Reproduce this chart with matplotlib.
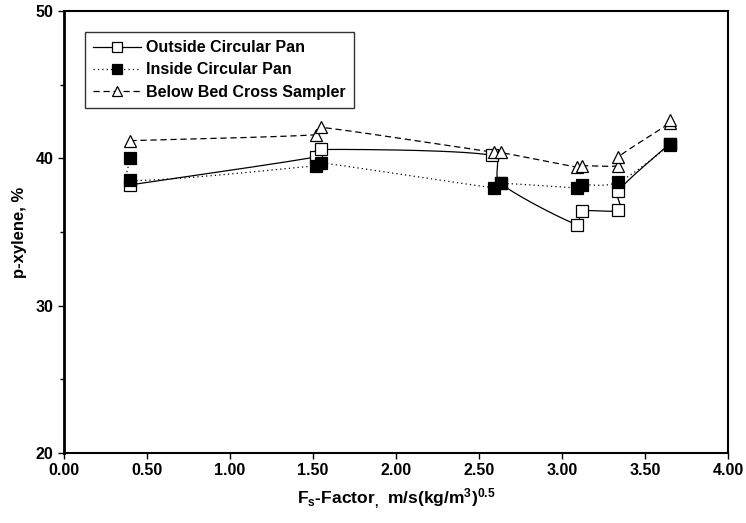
import numpy as np
import matplotlib
matplotlib.use("Agg")
import matplotlib.pyplot as plt
from matplotlib.ticker import MultipleLocator, FormatStrFormatter

plt.rcParams['font.family'] = ['Liberation Sans', 'DejaVu Sans']
plt.rcParams['font.weight'] = 'bold'
plt.rcParams['mathtext.fontset'] = 'custom'
plt.rcParams['mathtext.rm'] = 'Liberation Sans:bold'
plt.rcParams['mathtext.it'] = 'Liberation Sans:bold'
plt.rcParams['mathtext.bf'] = 'Liberation Sans:bold'

# Data
outside_x = [0.40, 1.52, 1.55, 2.58, 2.63, 3.09, 3.12, 3.34, 3.34, 3.65]
outside_y = [38.2, 40.1, 40.6, 40.2, 38.3, 35.5, 36.4, 36.5, 37.8, 41.0]
inside_x = [0.40, 0.40, 1.52, 1.55, 2.59, 2.63, 3.09, 3.12, 3.34, 3.65, 3.65]
inside_y = [40.0, 38.5, 39.5, 39.7, 38.0, 38.3, 38.0, 38.2, 38.4, 40.9, 41.0]
below_x = [0.40, 1.52, 1.55, 2.59, 2.63, 3.09, 3.12, 3.34, 3.34, 3.65, 3.65]
below_y = [41.2, 41.6, 42.1, 40.4, 40.4, 39.4, 39.5, 39.5, 40.1, 42.4, 42.6]

labels = ["Outside Circular Pan", "Inside Circular Pan", "Below Bed Cross Sampler"]

XS, YS = 166.0, 14.73  # approx display scale for smoothing


def smooth(xs, ys, n=30):
    P = np.column_stack([np.array(xs) * XS, np.array(ys) * YS])
    out = [P[0]]
    m = len(P)
    for i in range(m - 1):
        p0 = P[i - 1] if i > 0 else P[i]
        p1 = P[i]
        p2 = P[i + 1]
        p3 = P[i + 2] if i + 2 < m else P[i + 1]
        L = np.linalg.norm(p2 - p1)
        h1 = (p2 - p0) / 6.0
        h2 = (p3 - p1) / 6.0
        lim = L / 2.5
        for h in (h1, h2):
            n_ = np.linalg.norm(h)
            if n_ > lim and n_ > 0:
                h *= lim / n_
        c1 = p1 + h1
        c2 = p2 - h2
        t = np.linspace(0, 1, n)[1:, None]
        seg = ((1 - t) ** 3) * p1 + 3 * ((1 - t) ** 2) * t * c1 + 3 * (1 - t) * t ** 2 * c2 + t ** 3 * p2
        out.extend(seg)
    out = np.array(out)
    return out[:, 0] / XS, out[:, 1] / YS


fig = plt.figure(figsize=(7.46, 5.23), dpi=100)
ax = fig.add_axes([0.0858, 0.1338, 0.8901, 0.8452])

series = [
    (outside_x, outside_y, '-', 's', 'white'),
    (inside_x, inside_y, (0, (1, 2.5)), 's', 'black'),
    (below_x, below_y, (0, (5, 3)), '^', 'white'),
]
handles = []
for (xs, ys, ls, mk, fc), lab in zip(series, labels):
    sx, sy = smooth(xs, ys)
    ax.plot(sx, sy, color='black', linestyle=ls, linewidth=0.9, zorder=2)
    ax.plot(xs, ys, linestyle='none', marker=mk, markersize=8.5,
            markerfacecolor=fc, markeredgecolor='black', markeredgewidth=0.9, zorder=3)
    h, = ax.plot([], [], color='black', linestyle=ls, linewidth=0.9, marker=mk,
                 markersize=7.5, markerfacecolor=fc, markeredgecolor='black', markeredgewidth=0.9)
    handles.append(h)

ax.set_xlim(0, 4)
ax.set_ylim(20, 50)
ax.xaxis.set_major_locator(MultipleLocator(0.5))
ax.xaxis.set_major_formatter(FormatStrFormatter('%.2f'))
ax.yaxis.set_major_locator(MultipleLocator(10))
ax.yaxis.set_minor_locator(MultipleLocator(5))
ax.tick_params(axis='both', which='major', direction='out', length=4, width=1, labelsize=11.5)
ax.tick_params(axis='y', which='minor', direction='out', length=3, width=1)
for lab in ax.get_xticklabels() + ax.get_yticklabels():
    lab.set_fontweight('bold')
for s in ax.spines.values():
    s.set_linewidth(1.5)
ax.spines['left'].set_linewidth(2)

ax.set_ylabel('p-xylene, %', fontsize=12, fontweight='bold', labelpad=6)
ax.set_xlabel(r'F$_{\mathrm{s}}$-Factor$_{,}$  m/s(kg/m$^{3}$)$^{0.5}$', fontsize=12.5, fontweight='bold', labelpad=6)

leg = ax.legend(handles, labels, loc='upper left', bbox_to_anchor=(0.02, 0.97),
                fontsize=11.5, frameon=True, fancybox=False, handlelength=3.0,
                handletextpad=0.3, borderpad=0.5, labelspacing=0.45)
leg.get_frame().set_edgecolor('black')
leg.get_frame().set_linewidth(1.0)
for t in leg.get_texts():
    t.set_fontweight('bold')

fig.savefig('out.png', dpi=100)
